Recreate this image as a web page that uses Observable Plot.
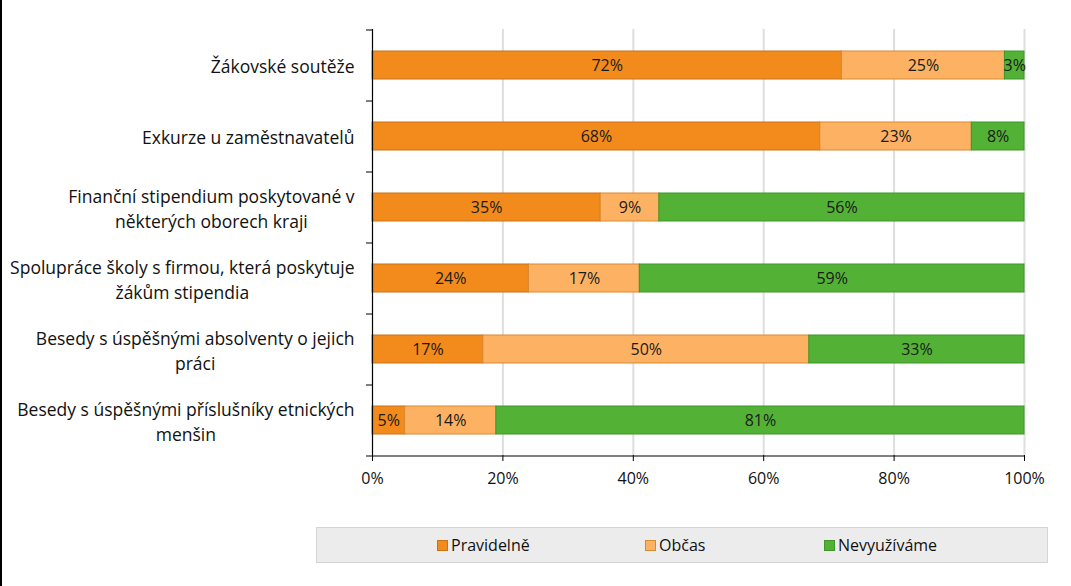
<!DOCTYPE html>
<html>
<head>
<meta charset="utf-8">
<script src="https://cdn.jsdelivr.net/npm/d3@7"></script>
<script src="https://cdn.jsdelivr.net/npm/@observablehq/plot@0.6"></script>
<style>
  html, body { margin: 0; padding: 0; background: #fff; }
  #wrap { position: relative; width: 1071px; height: 586px; overflow: hidden; font-family: "Open Sans", sans-serif; }
  #border { position: absolute; left: 0; top: 0; width: 2px; height: 586px; background: #000; }
  #legend { position: absolute; left: 316px; top: 527px; width: 730px; height: 34px; background: #ececec; border: 1px solid #d4d4d4; font-size: 16px; color: #111; }
  .item { position: absolute; top: 6px; display: flex; align-items: center; }
  .sw { width: 9px; height: 9px; margin-right: 3px; border: 1px solid; }
</style>
</head>
<body>
<div id="wrap"><div id="chart"></div><div id="border"></div><div id="legend"></div></div>
<script>
const categories = [
  "Žákovské soutěže",
  "Exkurze u zaměstnavatelů",
  "Finanční stipendium poskytované v některých oborech kraji",
  "Spolupráce školy s firmou, která poskytuje žákům stipendia",
  "Besedy s úspěšnými absolventy o jejich práci",
  "Besedy s úspěšnými příslušníky etnických menšin"
];
const tickLabels = [
  "Žákovské soutěže",
  "Exkurze u zaměstnavatelů",
  "Finanční stipendium poskytované v\nněkterých oborech kraji",
  "Spolupráce školy s firmou, která poskytuje\nžákům stipendia",
  "Besedy s úspěšnými absolventy o jejich\npráci",
  "Besedy s úspěšnými příslušníky etnických\nmenšin"
];
const series = ["Pravidelně", "Občas", "Nevyužíváme"];
const pravidelne = [72, 68, 35, 24, 17, 5];
const obcas = [25, 23, 9, 17, 50, 14];
const nevyuzivame = [3, 8, 56, 59, 33, 81];
const xTicks = [0, 0.2, 0.4, 0.6, 0.8, 1];
const fills = ["#F28B1C", "#FDB263", "#53B236"];
const strokes = ["#C8721A", "#D98A30", "#3F962B"];

const valuesBySeries = [pravidelne, obcas, nevyuzivame];
const data = categories.flatMap((c, i) => series.map((s, j) => ({category: c, series: s, value: valuesBySeries[j][i]})));
const fillOf = d => fills[series.indexOf(d.series)];
const strokeOf = d => strokes[series.indexOf(d.series)];
const pct = d => Math.round(d * 100) + "%";

const labelFont = 17.5;
const ctx = document.createElement("canvas").getContext("2d");
ctx.font = `${labelFont}px "Open Sans"`;
const blockWidth = t => Math.max(...t.split("\n").map(l => ctx.measureText(l).width));

const height = 500, marginTop = 29, marginBottom = 45;
const step = (height - marginTop - marginBottom) / categories.length;

const labelMarks = categories.map((c, i) =>
  Plot.axisY([c], {tickSize: 0, tickPadding: 18, tickFormat: () => tickLabels[i], textAnchor: "middle",
    dx: -blockWidth(tickLabels[i]) / 2, lineHeight: 1.4, fontSize: labelFont, label: null}));

const chart = Plot.plot({
  width: 1071,
  height,
  marginLeft: 372,
  marginRight: 47,
  marginTop,
  marginBottom,
  style: {fontFamily: "Open Sans", fontSize: "16px", color: "#111", background: "transparent"},
  x: {domain: [0, 1], ticks: xTicks, tickFormat: pct},
  y: {domain: categories, paddingInner: 0.606, paddingOuter: 0.303, label: null},
  marks: [
    Plot.gridX(xTicks.slice(1), {stroke: "#dedede", strokeOpacity: 1, strokeWidth: 2}),
    Plot.barX(data, Plot.stackX({offset: "normalize", x: "value", y: "category", z: "series", fill: fillOf, stroke: strokeOf, strokeWidth: 1})),
    Plot.text(data, Plot.stackX({offset: "normalize", x: "value", y: "category", z: "series", text: d => d.value + "%", fill: "#1a1a1a", fontSize: 16})),
    Plot.ruleX([0], {stroke: "#000", strokeWidth: 1.2}),
    Plot.ruleY([categories[categories.length - 1]], {dy: step / 2, stroke: "#000", strokeWidth: 1.2}),
    Plot.axisX({ticks: xTicks, tickFormat: pct, tickSize: 6, tickPadding: 11, label: null, fontSize: 16, stroke: "#000"}),
    Plot.axisY({tickSize: 6, tickFormat: () => "", dy: -step / 2, label: null, stroke: "#000"}),
    Plot.axisY([categories[categories.length - 1]], {tickSize: 6, tickFormat: () => "", dy: step / 2, label: null, stroke: "#000"}),
    ...labelMarks
  ]
});
document.getElementById("chart").append(chart);

const legendPos = [120, 328, 507];
const legend = d3.select("#legend");
series.forEach((s, i) => {
  const it = legend.append("div").attr("class", "item").style("left", legendPos[i] + "px");
  it.append("div").attr("class", "sw").style("background", fills[i]).style("border-color", strokes[i]);
  it.append("span").text(s);
});
</script>
</body>
</html>
